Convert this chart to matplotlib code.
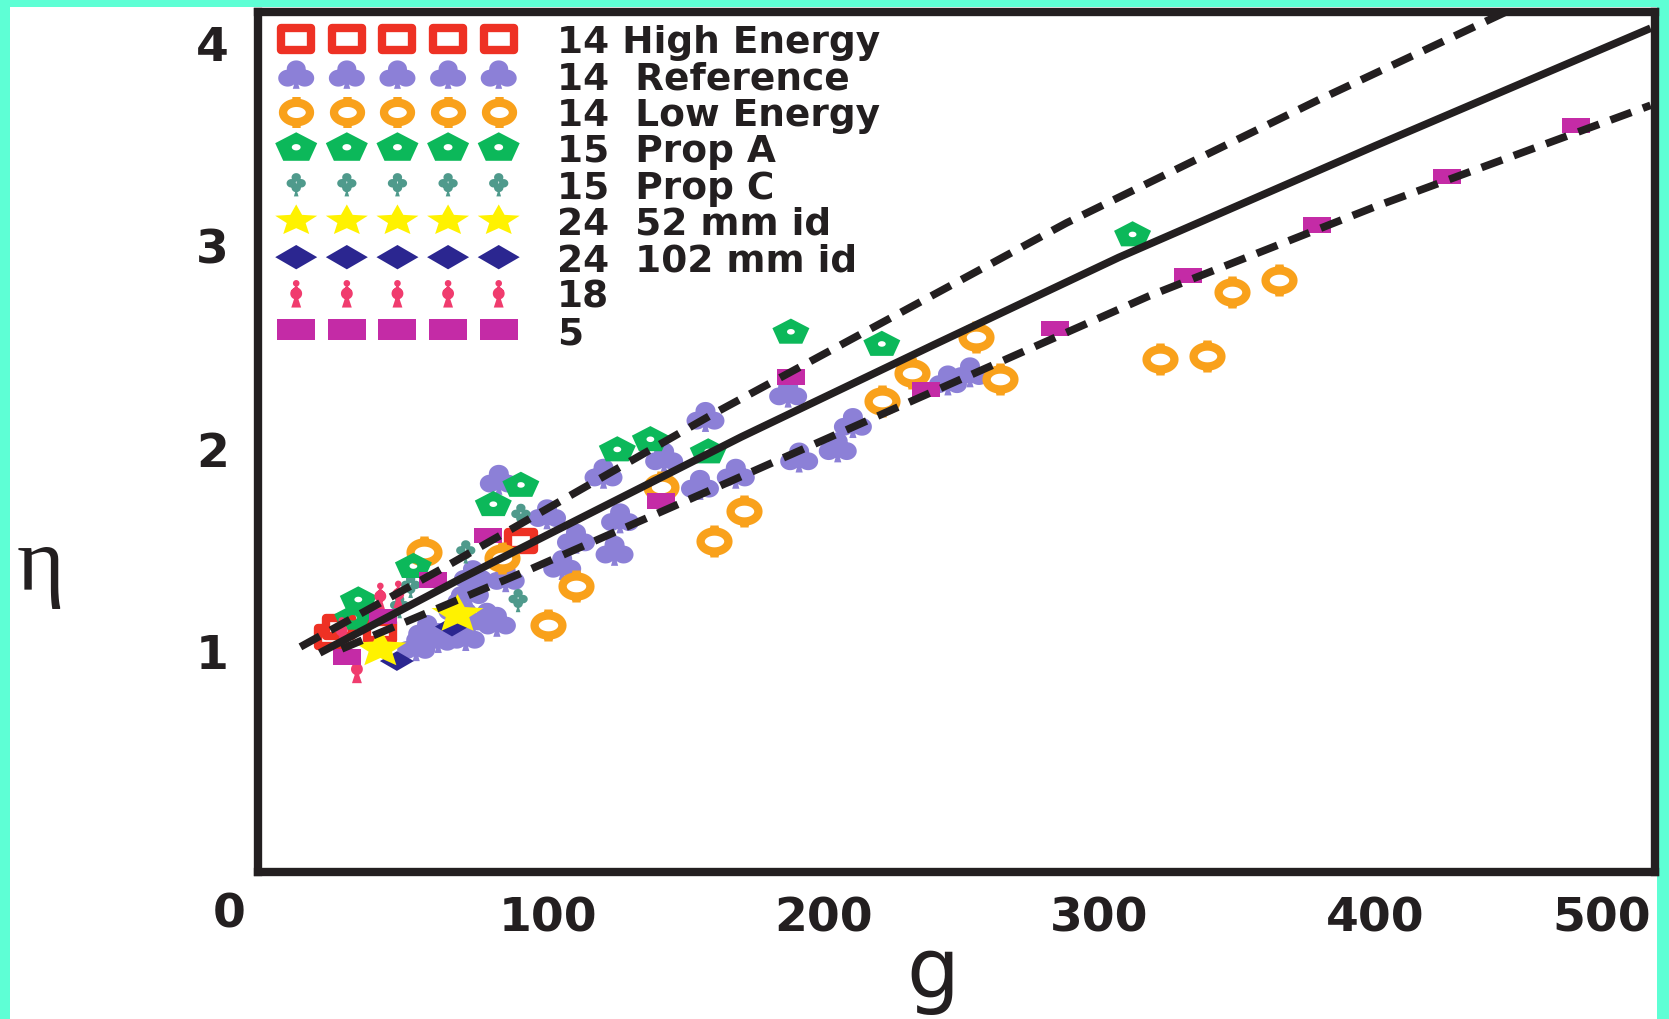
import numpy as np
import matplotlib
matplotlib.use('Agg')
import matplotlib.pyplot as plt
from matplotlib.path import Path
from matplotlib.patches import Rectangle

# data (g, eta)
high_g = [21, 24, 39, 90]
high_eta = [1.07, 1.12, 1.10, 1.54]

ref_g = [52, 56, 60, 67, 70, 71.5, 72.6, 77.7, 81.3, 84.5, 82, 99.5, 105, 110, 120,
         124, 126, 142, 155, 157, 168, 191, 187, 205, 210.5, 245, 253]
ref_eta = [1.02, 1.10, 1.06, 1.21, 1.07, 1.29, 1.37, 1.16, 1.14, 1.36, 1.84, 1.67, 1.42, 1.55, 1.87,
           1.49, 1.65, 1.95, 1.815, 2.15, 1.87, 1.95, 2.27, 2.0, 2.12, 2.33, 2.37]

low_g = [55, 83, 100, 110, 141, 160, 171, 221, 232, 255, 264, 322, 339, 348, 365]
low_eta = [1.49, 1.46, 1.13, 1.32, 1.81, 1.54, 1.69, 2.23, 2.37, 2.55, 2.34, 2.44, 2.455, 2.77, 2.83]

propa_g = [29, 31, 51, 80, 90, 125, 137, 158, 188, 221, 312]
propa_eta = [1.16, 1.25, 1.415, 1.72, 1.815, 1.99, 2.04, 1.98, 2.57, 2.51, 3.05]

propc_g = [46, 50, 70, 89, 90]
propc_eta = [1.22, 1.32, 1.49, 1.25, 1.67]

id52_g = [39, 67]
id52_eta = [1.01, 1.18]

id102_g = [45, 65]
id102_eta = [0.95, 1.12]

s18_g = [25, 30.5, 39, 45.5]
s18_eta = [1.10, 0.91, 1.27, 1.28]

s5_g = [27, 40, 58, 78, 141, 188, 237, 284, 332, 379, 426, 473]
s5_eta = [0.97, 1.17, 1.35, 1.57, 1.74, 2.35, 2.29, 2.59, 2.85, 3.10, 3.34, 3.59]

# correlation lines
mid_g = [17, 68, 170, 240, 307, 400, 500]
mid_eta = [0.99, 1.355, 2.055, 2.51, 2.94, 3.49, 4.07]
up_g = [10, 62, 160, 288, 380, 460]
up_eta = [1.02, 1.41, 2.17, 3.11, 3.72, 4.23]
lo_g = [25, 93, 160, 318, 400, 500]
lo_eta = [1.01, 1.40, 1.80, 2.75, 3.19, 3.69]

labels = ['14 High Energy', '14  Reference', '14  Low Energy', '15  Prop A', '15  Prop C',
          '24  52 mm id', '24  102 mm id', '18', '5']
x_ticks = [100, 200, 300, 400, 500]
y_ticks = [1, 2, 3, 4]


def ellipse(cx, cy, rx, ry, n=40, cw=False):
    t = np.linspace(0, 2 * np.pi, n, endpoint=False)
    if cw:
        t = -t
    return np.column_stack([cx + rx * np.cos(t), cy + ry * np.sin(t)])


def closed(pts):
    pts = np.asarray(pts, float)
    verts = np.vstack([pts, pts[:1]])
    codes = [Path.MOVETO] + [Path.LINETO] * (len(pts) - 1) + [Path.CLOSEPOLY]
    return Path(verts, codes)


def stretch(path, sx):
    v = path.vertices.copy()
    v[:, 0] *= sx
    return Path(v, path.codes)


club = stretch(Path.make_compound_path(
    closed(ellipse(0, 0.38, 0.5, 0.5)),
    closed(ellipse(-0.45, -0.17, 0.5, 0.5)),
    closed(ellipse(0.45, -0.17, 0.5, 0.5)),
    closed([[0, -0.1], [-0.18, -0.8], [0.18, -0.8]])), 1.12)

club_c = stretch(Path.make_compound_path(
    closed(ellipse(0, 0.5, 0.3, 0.3)),
    closed(ellipse(-0.32, 0.08, 0.3, 0.3)),
    closed(ellipse(0.32, 0.08, 0.3, 0.3)),
    closed(ellipse(0, -0.25, 0.3, 0.3)),
    closed([[0, -0.3], [-0.15, -0.85], [0.15, -0.85]])), 1.1)

ring = Path.make_compound_path(
    closed(ellipse(0, 0, 1.0, 0.72)),
    Path([[0, 0.72], [0, 1.15]], [Path.MOVETO, Path.LINETO]),
    Path([[0, -0.72], [0, -1.15]], [Path.MOVETO, Path.LINETO]))

ang = np.deg2rad(90 + 72 * np.arange(5))
penta = Path.make_compound_path(
    closed(np.column_stack([1.4 * np.cos(ang), np.sin(ang)])),
    closed(ellipse(0, 0.05, 0.28, 0.2, cw=True)))

ang = np.deg2rad(90 + 36 * np.arange(10))
rad = np.where(np.arange(10) % 2 == 0, 1.0, 0.45)
star = closed(np.column_stack([1.35 * rad * np.cos(ang), rad * np.sin(ang)]))

diamond = closed([[1, 0], [0, 0.58], [-1, 0], [0, -0.58]])
rect5 = closed([[-1, -0.55], [1, -0.55], [1, 0.55], [-1, 0.55]])
hollow = closed([[-1, -0.72], [1, -0.72], [1, 0.72], [-1, 0.72]])

pin = Path.make_compound_path(
    closed(ellipse(0, 0.62, 0.2, 0.2)),
    closed(ellipse(0, 0.0, 0.36, 0.36)),
    closed([[0, 0.5], [-0.3, 0.15], [0.3, 0.15]]),
    closed([[-0.3, -0.85], [0.3, -0.85], [0.12, -0.3], [-0.12, -0.3]]))


def sz(px):
    return (px * 0.72) ** 2


ink = '#231f20'
plt.rcParams['font.family'] = 'DejaVu Sans'

fig = plt.figure(figsize=(16.69, 10.20), dpi=100, facecolor='#5effd5')
fig.add_artist(Rectangle((10 / 1669, 0), 1647 / 1669, 1 - 8 / 1020, transform=fig.transFigure,
                         facecolor='white', edgecolor='none', zorder=-10))
ax = fig.add_axes([258 / 1669, 1 - 873 / 1020, 1397 / 1669, 860 / 1020])

# (x, y, marker, size, legend size, face, edge, lw, label)
series = [
    (high_g, high_eta, hollow, sz(26), sz(30), 'white', '#ee3124', 6, labels[0]),
    (ref_g, ref_eta, club, sz(38), sz(36), '#8c80d7', 'none', 0, labels[1]),
    (low_g, low_eta, ring, sz(32), sz(31), 'white', '#f9a11b', 6, labels[2]),
    (propc_g, propc_eta, club_c, sz(24), sz(24), '#4f9a8c', 'none', 0, labels[4]),
    (propa_g, propa_eta, penta, sz(37), sz(42), '#0cb85a', 'none', 0, labels[3]),
    (s18_g, s18_eta, pin, sz(28), sz(28), '#f03c6e', 'none', 0, labels[7]),
    (id102_g, id102_eta, diamond, sz(34), sz(42), '#2b2690', 'none', 0, labels[6]),
    (id52_g, id52_eta, star, sz(52), sz(42), '#fff200', 'none', 0, labels[5]),
    (s5_g, s5_eta, rect5, sz(28), sz(38), '#c42ba6', 'none', 0, labels[8]),
]
handles = {}
leg_sizes = {}
for g, eta, m, s, ls, fc, ec, lw, lab in series:
    h = ax.scatter(g, eta, marker=m, s=s, facecolors=fc, edgecolors=ec, linewidths=lw,
                   joinstyle='round', label=lab, zorder=3)
    handles[lab] = h
    leg_sizes[lab] = ls

ax.plot(mid_g, mid_eta, color=ink, lw=5.5, solid_capstyle='butt', solid_joinstyle='round', zorder=5)
ax.plot(up_g, up_eta, color=ink, lw=5.5, linestyle=(0, (2.9, 1.6)), zorder=5)
ax.plot(lo_g, lo_eta, color=ink, lw=5.5, linestyle=(0, (2.9, 1.6)), zorder=5)

ax.set_xlim(-5.4, 501.6)
ax.set_ylim(-0.09, 4.15)
ax.set_xticks(x_ticks)
ax.set_yticks(y_ticks)
ax.set_xticks(x_ticks[:-1], minor=True)
ax.set_yticks(y_ticks[:-1], minor=True)
ax.grid(which='minor', color='#e2e2e2', lw=0.9)
ax.grid(which='major', visible=False)
ax.tick_params(which='both', length=0)
ax.tick_params(axis='y', pad=21, labelsize=34)
ax.tick_params(axis='x', pad=17, labelsize=34)
for t in ax.get_xticklabels() + ax.get_yticklabels():
    t.set_fontweight('bold')
    t.set_color(ink)
ax.get_xticklabels()[-1].set_horizontalalignment('right')
for sp in ax.spines.values():
    sp.set_linewidth(6)
    sp.set_color(ink)
ax.set_axisbelow(True)

fig.text(229 / 1669, 1 - 915 / 1020, '0', fontsize=34, fontweight='bold', color=ink,
         ha='center', va='center')
fig.text(933 / 1669, 1 - 998 / 1020, 'g', fontsize=60, color=ink, ha='center', va='baseline')
fig.text(40 / 1669, 1 - 590 / 1020, '\u03b7', fontsize=66, color=ink, ha='center',
         va='baseline', family='Liberation Serif')

leg = ax.legend([handles[l] for l in labels], labels, loc='upper left',
                bbox_to_anchor=(0.0193, 0.986), frameon=False, fontsize=27,
                scatterpoints=5, scatteryoffsets=[0.5], handlelength=6.0,
                handletextpad=1.25, labelspacing=0.01, borderpad=0, borderaxespad=0)
for t in leg.get_texts():
    t.set_fontweight('bold')
    t.set_color(ink)
for h, l in zip(leg.legend_handles, labels):
    h.set_sizes([leg_sizes[l]])

fig.savefig('out.png', dpi=100, facecolor=fig.get_facecolor())
